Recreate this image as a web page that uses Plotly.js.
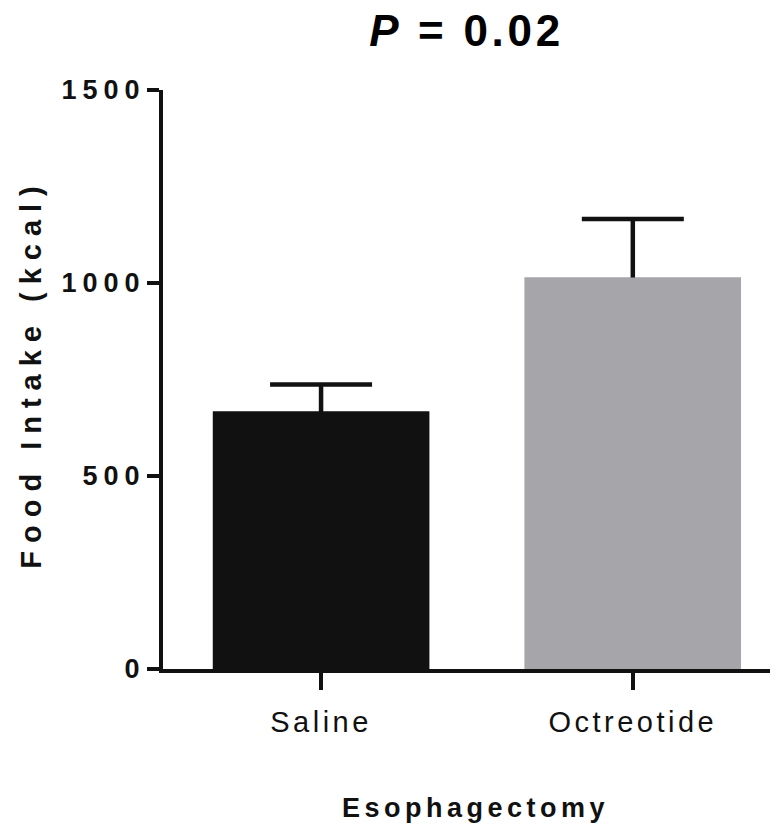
<!DOCTYPE html>
<html>
<head>
<meta charset="utf-8">
<script src="https://cdn.plot.ly/plotly-3.0.1.min.js"></script>
<style>
  html, body { margin: 0; padding: 0; background: #fff; }
  #chart { width: 782px; height: 832px; }
  .ytick text { letter-spacing: 6px; }
  .xtick text { letter-spacing: 3.5px; }
  .g-gtitle text { letter-spacing: 3.7px; }
  .g-xtitle text { letter-spacing: 4.5px; }
  .g-ytitle text { letter-spacing: 8px; }
  .g-xtitle { transform: translateX(9px); }
  .g-ytitle { transform: translate(0px, -6px); }
</style>
</head>
<body>
<div id="chart"></div>
<script>
const categories = ["Saline", "Octreotide"];
const meanValues = [667, 1014];
const errorUp = [70, 152];
const barColors = ["#111111", "#a6a5aa"];
const yTickValues = [0, 500, 1000, 1500];
const yTickLabels = ["0", "500", "1000", "1500"];

const xPos = categories.map((c, i) => i);

// Error-bar trace (stem runs down to the base; the bars drawn on top hide the lower part)
const errTrace = {
  type: "bar",
  x: xPos,
  y: meanValues,
  width: 0.694,
  marker: { color: barColors, line: { width: 0 } },
  error_y: {
    type: "data",
    symmetric: false,
    array: errorUp,
    arrayminus: meanValues,
    color: "#111111",
    thickness: 4.5,
    width: 51
  },
  hoverinfo: "none"
};

// Bars drawn on top
const barTrace = {
  type: "bar",
  x: xPos,
  y: meanValues,
  width: 0.694,
  marker: { color: barColors, line: { width: 0 } },
  hoverinfo: "none"
};

const layout = {
  width: 782,
  height: 832,
  margin: { l: 163, r: 12, t: 90, b: 163 },
  paper_bgcolor: "#ffffff",
  plot_bgcolor: "#ffffff",
  showlegend: false,
  barmode: "overlay",
  title: {
    text: "<i>P</i> = 0.02",
    font: { family: "Liberation Sans, Arial, sans-serif", size: 44, color: "#000", weight: 700 },
    x: 0.5, xref: "paper", xanchor: "center",
    y: 0.963, yref: "container", yanchor: "middle"
  },
  xaxis: {
    range: [-0.507, 1.44],
    tickvals: xPos,
    ticktext: categories,
    showgrid: false,
    zeroline: false,
    showline: true,
    linecolor: "#111",
    linewidth: 4,
    ticks: "outside",
    ticklen: 17,
    tickwidth: 4,
    tickcolor: "#111",
    ticklabelstandoff: 7,
    tickfont: { family: "Liberation Sans, Arial, sans-serif", size: 29, color: "#111" },
    title: {
      text: "Esophagectomy",
      font: { family: "Liberation Sans, Arial, sans-serif", size: 27, color: "#111", weight: 700 },
      standoff: 62
    }
  },
  yaxis: {
    range: [0, 1500],
    tickvals: yTickValues,
    ticktext: yTickLabels,
    showgrid: false,
    zeroline: false,
    showline: true,
    linecolor: "#111",
    linewidth: 4,
    ticks: "outside",
    ticklen: 12,
    tickwidth: 4,
    tickcolor: "#111",
    ticklabelstandoff: -4,
    tickfont: { family: "Liberation Sans, Arial, sans-serif", size: 27, color: "#111", weight: 700 },
    title: {
      text: "Food Intake (kcal)",
      font: { family: "Liberation Sans, Arial, sans-serif", size: 29, color: "#111", weight: 700 },
      standoff: 12
    }
  }
};

Plotly.newPlot("chart", [errTrace, barTrace], layout, { displayModeBar: false, staticPlot: true });
</script>
</body>
</html>
